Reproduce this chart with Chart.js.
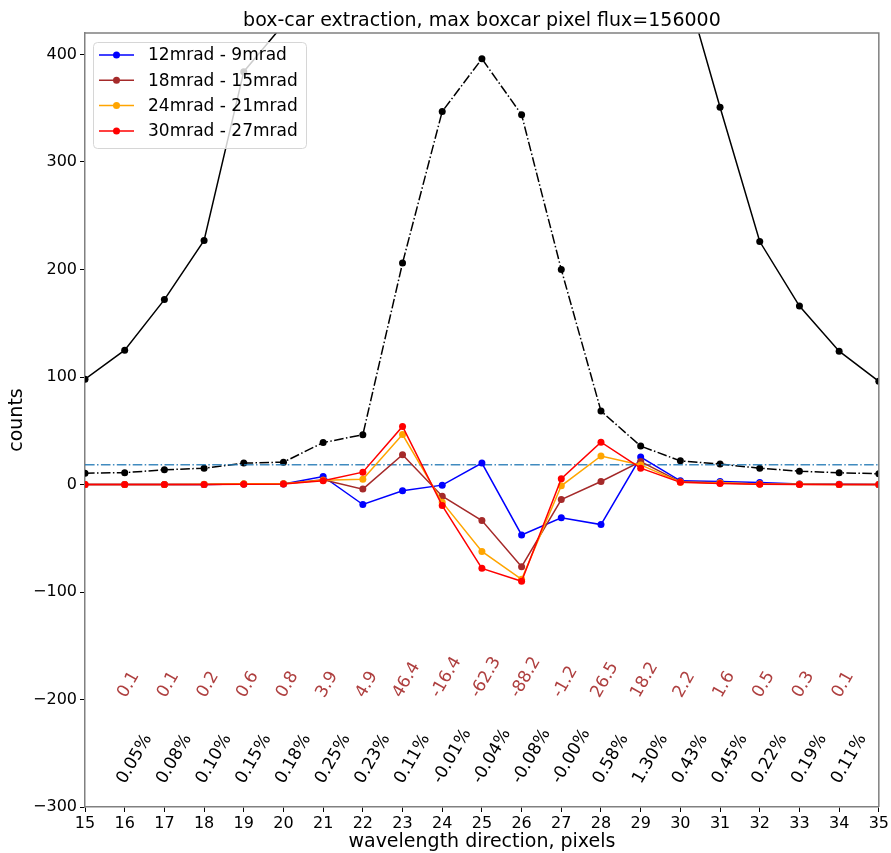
<!DOCTYPE html>
<html>
<head>
<meta charset="utf-8">
<script src="https://cdn.jsdelivr.net/npm/chart.js@4.4.0/dist/chart.umd.min.js"></script>
<style>
  html, body { margin: 0; padding: 0; background: #fff; }
  #wrap { width: 891px; height: 853px; position: relative; }
</style>
</head>
<body>
<div id="wrap"><canvas id="myChart" width="891" height="853"></canvas></div>
<script>
// pixel positions along the wavelength direction
const pixels = [15, 16, 17, 18, 19, 20, 21, 22, 23, 24, 25, 26, 27, 28, 29, 30, 31, 32, 33, 34, 35];

// scaled total profile (solid black), clipped at the top of the plot
const profile = [98, 125, 172, 227, 384, 428, 470, 520, 560, 590, 600, 590, 570, 540, 510, 480, 351, 226, 166, 124, 96];
// box-car extraction (dash-dot black)
const boxcar = [10.5, 11, 13.7, 15.2, 19.9, 20.8, 39, 46.3, 206, 347, 396, 344, 200, 68.3, 35.7, 22, 19, 15.2, 12.4, 10.9, 10];
const hlineLevel = 18.3;

const diff12_9 = [0, 0, 0, 0, 0.5, 0.5, 7.5, -18.6, -5.9, -0.6, 19.9, -46.9, -31, -37.3, 25.5, 3.4, 2.8, 1.9, 0.5, 0.2, 0];
const diff18_15 = [0, 0, 0, 0, 0.5, 0.7, 4.3, -4.3, 27.7, -10.9, -33.5, -76.4, -14, 2.8, 21.4, 2.5, 1.5, 0.5, 0.3, 0.1, 0];
const diff24_21 = [0.05, 0.1, 0.1, 0.2, 0.6, 0.8, 3.9, 4.9, 46.4, -16.4, -62.3, -88.2, -1.2, 26.5, 18.2, 2.2, 1.6, 0.5, 0.3, 0.1, 0.05];
const diff30_27 = [0, 0, 0, 0, 0.3, 0.5, 3.4, 11.5, 54, -19.6, -78, -90, 5.3, 39.4, 15.2, 2, 1, 0.3, 0.1, 0, 0];

// text annotations for pixels 16..34
const annPixels = [16, 17, 18, 19, 20, 21, 22, 23, 24, 25, 26, 27, 28, 29, 30, 31, 32, 33, 34];
const annValues = ['0.1', '0.1', '0.2', '0.6', '0.8', '3.9', '4.9', '46.4', '-16.4', '-62.3', '-88.2', '-1.2', '26.5', '18.2', '2.2', '1.6', '0.5', '0.3', '0.1'];
const annPercents = ['0.05%', '0.08%', '0.10%', '0.15%', '0.18%', '0.25%', '0.23%', '0.11%', '-0.01%', '-0.04%', '-0.08%', '-0.00%', '0.58%', '1.30%', '0.43%', '0.45%', '0.22%', '0.19%', '0.11%'];

const yTicks = [-300, -200, -100, 0, 100, 200, 300, 400];
const xTicks = pixels;

const FONT = "'DejaVu Sans', sans-serif";

function pts(vals) {
    return pixels.map((x, i) => ({ x: x, y: vals[i] }));
}

const seriesDefs = [
    { label: '12mrad - 9mrad', data: diff12_9, color: '#0000ff', order: 4 },
    { label: '18mrad - 15mrad', data: diff18_15, color: '#a52a2a', order: 3 },
    { label: '24mrad - 21mrad', data: diff24_21, color: '#ffa500', order: 2 },
    { label: '30mrad - 27mrad', data: diff30_27, color: '#ff0000', order: 1 }
];

const datasets = [
    {
        label: 'profile', data: pts(profile), borderColor: '#000', backgroundColor: '#000',
        borderWidth: 1.5, pointRadius: 3.5, pointBorderWidth: 0, order: 7
    },
    {
        label: 'boxcar', data: pts(boxcar), borderColor: '#000', backgroundColor: '#000',
        borderWidth: 1.5, borderDash: [9.6, 2.4, 1.5, 2.4], pointRadius: 3.5, pointBorderWidth: 0, order: 6
    },
    {
        label: 'level', data: [{ x: 15, y: hlineLevel }, { x: 35, y: hlineLevel }],
        borderColor: 'rgba(31,119,180,0.85)', borderWidth: 1.5, borderDash: [9.6, 2.4, 1.5, 2.4],
        pointRadius: 0, order: 5
    }
];
seriesDefs.forEach(s => {
    datasets.push({
        label: s.label, data: pts(s.data), borderColor: s.color, backgroundColor: s.color,
        borderWidth: 1.5, pointRadius: 3.5, pointBorderWidth: 0, order: s.order
    });
});

function rotatedText(ctx, text, cx, bottom, color) {
    const size = 17;
    ctx.font = size + 'px ' + FONT;
    const w = ctx.measureText(text).width;
    const h = size * 0.73;
    const a = 60 * Math.PI / 180;
    const bh = w * Math.sin(a) + h * Math.cos(a);
    ctx.save();
    ctx.translate(cx, bottom - bh / 2);
    ctx.rotate(-a);
    ctx.fillStyle = color;
    ctx.textAlign = 'center';
    ctx.textBaseline = 'middle';
    ctx.fillText(text, 0, 0);
    ctx.restore();
}

const extras = {
    id: 'extras',
    afterDatasetsDraw(chart) {
        const ctx = chart.ctx;
        const xs = chart.scales.x, ys = chart.scales.y;
        const area = chart.chartArea;

        // annotations
        annPixels.forEach((p, i) => {
            rotatedText(ctx, annValues[i], xs.getPixelForValue(p) + 4, ys.getPixelForValue(-200), 'rgba(165,42,42,0.9)');
            rotatedText(ctx, annPercents[i], xs.getPixelForValue(p + 0.25), ys.getPixelForValue(-280), '#000');
        });

        // top and right frame
        ctx.save();
        ctx.strokeStyle = '#808080';
        ctx.lineWidth = 1.5;
        ctx.beginPath();
        ctx.moveTo(area.left, area.top);
        ctx.lineTo(area.right, area.top);
        ctx.lineTo(area.right, area.bottom);
        ctx.stroke();
        ctx.restore();

        // legend
        const lx = 93, ly = 42, lw = 213, lh = 106;
        ctx.save();
        ctx.beginPath();
        ctx.roundRect(lx + 0.5, ly + 0.5, lw, lh, 4);
        ctx.fillStyle = 'rgba(255,255,255,0.8)';
        ctx.fill();
        ctx.strokeStyle = '#d6d6d6';
        ctx.lineWidth = 1;
        ctx.stroke();
        ctx.font = '17px ' + FONT;
        ctx.textBaseline = 'middle';
        ctx.textAlign = 'left';
        seriesDefs.forEach((s, i) => {
            const y = 55 + i * 25.3;
            ctx.strokeStyle = s.color;
            ctx.lineWidth = 1.5;
            ctx.beginPath();
            ctx.moveTo(99, y);
            ctx.lineTo(134, y);
            ctx.stroke();
            ctx.fillStyle = s.color;
            ctx.beginPath();
            ctx.arc(116.5, y, 3.5, 0, Math.PI * 2);
            ctx.fill();
            ctx.fillStyle = '#000';
            ctx.fillText(s.label, 148, y + 1);
        });
        ctx.restore();

        // title
        ctx.save();
        ctx.font = '19px ' + FONT;
        ctx.fillStyle = '#000';
        ctx.textAlign = 'center';
        ctx.textBaseline = 'alphabetic';
        ctx.fillText('box-car extraction, max boxcar pixel flux=156000', (area.left + area.right) / 2, 26);
        ctx.restore();
    }
};

const minus = v => String(v).replace('-', '\u2212');

const ctx = document.getElementById('myChart').getContext('2d');
const chart = new Chart(ctx, {
    type: 'line',
    data: { datasets: datasets },
    options: {
        responsive: false,
        animation: false,
        layout: { padding: { top: 33, right: 11, left: 0, bottom: 0 } },
        plugins: {
            legend: { display: false },
            tooltip: { enabled: false },
            title: { display: false }
        },
        scales: {
            x: {
                type: 'linear', min: 15, max: 35,
                afterFit: s => { s.height = 46; },
                afterBuildTicks: s => { s.ticks = xTicks.map(v => ({ value: v })); },
                ticks: { font: { family: FONT, size: 16 }, color: '#000', padding: 2, maxRotation: 0, autoSkip: false },
                grid: { drawOnChartArea: false, drawTicks: true, tickLength: 5, color: '#000', tickWidth: 1 },
                border: { display: true, color: '#808080', width: 1.5 },
                title: { display: true, text: 'wavelength direction, pixels', font: { family: FONT, size: 19 }, color: '#000', padding: { top: 0, bottom: 0 } }
            },
            y: {
                type: 'linear', min: -300, max: 420,
                afterFit: s => { s.width = 85; },
                afterBuildTicks: s => { s.ticks = yTicks.map(v => ({ value: v })); },
                ticks: { font: { family: FONT, size: 16 }, color: '#000', padding: 3, callback: v => minus(v) },
                grid: { drawOnChartArea: false, drawTicks: true, tickLength: 5, color: '#000', tickWidth: 1 },
                border: { display: true, color: '#808080', width: 1.5 },
                title: { display: true, text: 'counts', font: { family: FONT, size: 19 }, color: '#000', padding: { top: 6, bottom: 0 } }
            }
        }
    },
    plugins: [extras]
});
</script>
</body>
</html>
